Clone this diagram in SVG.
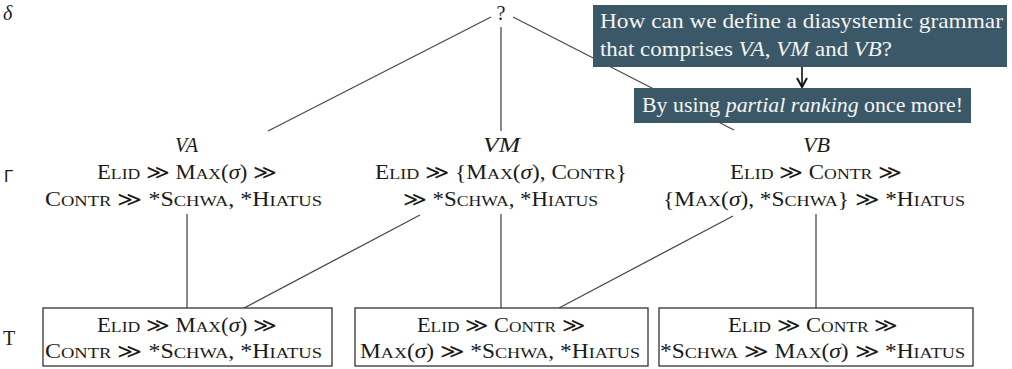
<svg xmlns="http://www.w3.org/2000/svg" width="1012" height="369" viewBox="0 0 1012 369">
  <style>
    .t { font-family: "Liberation Serif", "DejaVu Serif", serif; font-size: 20px; fill: #1a1a1a; }
    .sc { font-size: 15.5px; }
    .it { font-style: italic; }
    .edge { stroke: #4a4a4a; stroke-width: 1.3; fill: none; }
    .box { fill: #ffffff; stroke: #333333; stroke-width: 1.3; }
    .note { fill: #3b5868; }
    .nt { font-family: "Liberation Serif", "DejaVu Serif", serif; font-size: 21px; fill: #f4f4f4; }
  </style>
  <defs>
    <!-- open chevron head for the callout arrow -->
    <marker id="arrow" viewBox="0 0 12 12" refX="11" refY="6" markerWidth="12" markerHeight="12" orient="auto" markerUnits="userSpaceOnUse">
      <path d="M2,1 L11,6 L2,11" fill="none" stroke="#111" stroke-width="2"/>
    </marker>
  </defs>

  <rect width="1012" height="369" fill="#ffffff"/>

  <!-- level labels -->
  <g id="levels">
    <text class="t it" x="3" y="20">δ</text>
    <text x="4" y="182" font-family="Liberation Sans, DejaVu Sans, sans-serif" font-size="17" fill="#1a1a1a">Γ</text>
    <text class="t" x="3" y="345" font-size="19">T</text>
  </g>

  <!-- connectors -->
  <g id="connectors">
    <line class="edge" x1="491" y1="17" x2="268" y2="131"/>
    <line class="edge" x1="501" y1="27" x2="501" y2="131"/>
    <line class="edge" x1="513" y1="17" x2="734" y2="130"/>
    <line class="edge" x1="187" y1="214" x2="187" y2="308"/>
    <line class="edge" x1="420" y1="215" x2="244" y2="308"/>
    <line class="edge" x1="501" y1="214" x2="501" y2="308"/>
    <line class="edge" x1="733" y1="216" x2="559" y2="308"/>
    <line class="edge" x1="816" y1="214" x2="816" y2="308"/>
  </g>

  <!-- root -->
  <g id="root">
    <text class="t" x="501" y="20" text-anchor="middle" font-size="18">?</text>
  </g>

  <!-- grammars -->
  <g id="va">
    <text class="t it" x="175" y="152" textLength="23" lengthAdjust="spacingAndGlyphs">VA</text>
    <text class="t" x="97" y="179" textLength="180" lengthAdjust="spacingAndGlyphs">E<tspan class="sc">LID</tspan> ≫ M<tspan class="sc">AX</tspan>(<tspan class="it">σ</tspan>) ≫</text>
    <text class="t" x="45" y="206" textLength="277" lengthAdjust="spacingAndGlyphs">C<tspan class="sc">ONTR</tspan> ≫ *S<tspan class="sc">CHWA</tspan>, *H<tspan class="sc">IATUS</tspan></text>
  </g>

  <g id="vm">
    <text class="t it" x="483" y="152" textLength="37" lengthAdjust="spacingAndGlyphs">VM</text>
    <text class="t" x="375" y="179" textLength="252" lengthAdjust="spacingAndGlyphs">E<tspan class="sc">LID</tspan> ≫ {M<tspan class="sc">AX</tspan>(<tspan class="it">σ</tspan>), C<tspan class="sc">ONTR</tspan>}</text>
    <text class="t" x="403" y="206" textLength="195" lengthAdjust="spacingAndGlyphs">≫ *S<tspan class="sc">CHWA</tspan>, *H<tspan class="sc">IATUS</tspan></text>
  </g>

  <g id="vb">
    <text class="t it" x="803" y="152" textLength="27" lengthAdjust="spacingAndGlyphs">VB</text>
    <text class="t" x="730" y="179" textLength="172" lengthAdjust="spacingAndGlyphs">E<tspan class="sc">LID</tspan> ≫ C<tspan class="sc">ONTR</tspan> ≫</text>
    <text class="t" x="663" y="206" textLength="302" lengthAdjust="spacingAndGlyphs">{M<tspan class="sc">AX</tspan>(<tspan class="it">σ</tspan>), *S<tspan class="sc">CHWA</tspan>} ≫ *H<tspan class="sc">IATUS</tspan></text>
  </g>

  <!-- total rankings -->
  <g id="t1">
    <rect class="box" x="43" y="308" width="289" height="58"/>
    <text class="t" x="97" y="332" textLength="180" lengthAdjust="spacingAndGlyphs">E<tspan class="sc">LID</tspan> ≫ M<tspan class="sc">AX</tspan>(<tspan class="it">σ</tspan>) ≫</text>
    <text class="t" x="45" y="358" textLength="277" lengthAdjust="spacingAndGlyphs">C<tspan class="sc">ONTR</tspan> ≫ *S<tspan class="sc">CHWA</tspan>, *H<tspan class="sc">IATUS</tspan></text>
  </g>

  <g id="t2">
    <rect class="box" x="355" y="308" width="293" height="58"/>
    <text class="t" x="417" y="332" textLength="168" lengthAdjust="spacingAndGlyphs">E<tspan class="sc">LID</tspan> ≫ C<tspan class="sc">ONTR</tspan> ≫</text>
    <text class="t" x="360" y="358" textLength="280" lengthAdjust="spacingAndGlyphs">M<tspan class="sc">AX</tspan>(<tspan class="it">σ</tspan>) ≫ *S<tspan class="sc">CHWA</tspan>, *H<tspan class="sc">IATUS</tspan></text>
  </g>

  <g id="t3">
    <rect class="box" x="659" y="308" width="314" height="58"/>
    <text class="t" x="728" y="332" textLength="170" lengthAdjust="spacingAndGlyphs">E<tspan class="sc">LID</tspan> ≫ C<tspan class="sc">ONTR</tspan> ≫</text>
    <text class="t" x="660" y="358" textLength="305" lengthAdjust="spacingAndGlyphs">*S<tspan class="sc">CHWA</tspan> ≫ M<tspan class="sc">AX</tspan>(<tspan class="it">σ</tspan>) ≫ *H<tspan class="sc">IATUS</tspan></text>
  </g>

  <!-- callouts -->
  <g id="question">
    <rect class="note" x="593" y="5" width="414" height="62"/>
    <text class="nt" x="600" y="28" textLength="403" lengthAdjust="spacingAndGlyphs">How can we define a diasystemic grammar</text>
    <text class="nt" x="600" y="56" textLength="292" lengthAdjust="spacingAndGlyphs">that comprises <tspan class="it">VA</tspan>, <tspan class="it">VM</tspan> and <tspan class="it">VB</tspan>?</text>
  </g>

  <g id="answer">
    <rect class="note" x="634" y="88" width="337" height="35"/>
    <text class="nt" x="642" y="112" textLength="321" lengthAdjust="spacingAndGlyphs">By using <tspan class="it">partial ranking</tspan> once more!</text>
  </g>

  <g id="callout-arrow">
    <line x1="802" y1="67" x2="802" y2="87" stroke="#111" stroke-width="1.6" marker-end="url(#arrow)"/>
  </g>
</svg>
